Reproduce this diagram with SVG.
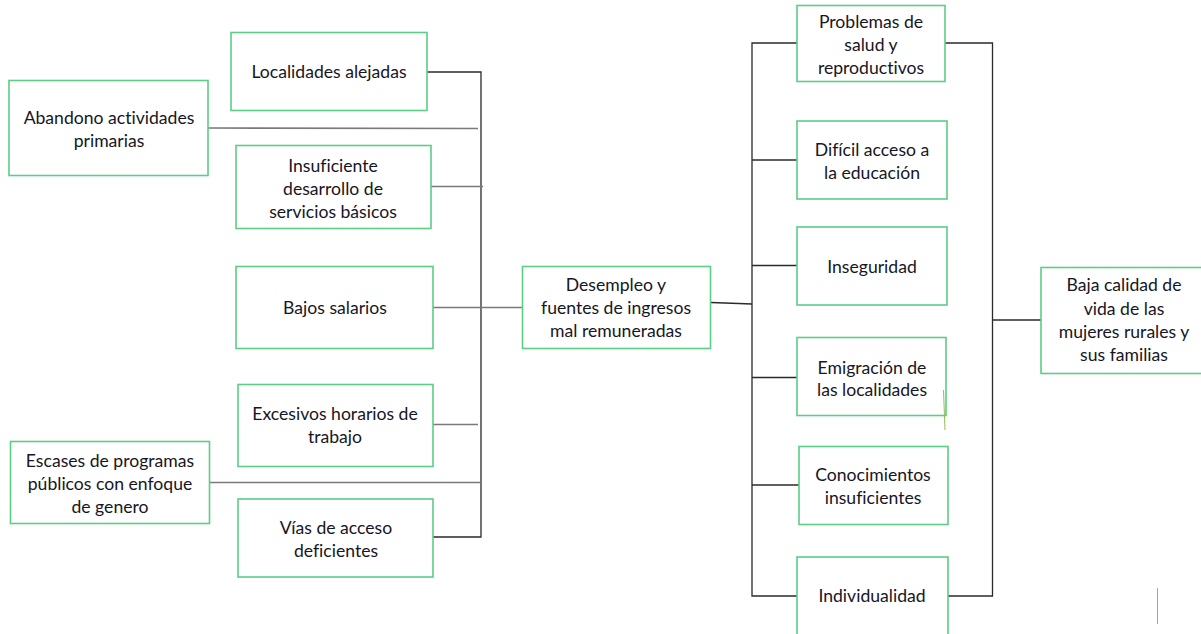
<svg xmlns="http://www.w3.org/2000/svg" width="1201" height="634" viewBox="0 0 1201 634">
<style>
.box{fill:#fff;stroke:#5cce86;stroke-width:1.6}
.t{font-family:Lato,"Open Sans","Liberation Sans",sans-serif;font-size:17.6px;fill:#161624;text-anchor:middle;font-variant-ligatures:none;font-feature-settings:"liga" 0,"dlig" 0}
.ln{stroke:#2a2a2a;stroke-width:1.3;fill:none}
.lg{stroke:#7a7a7a;stroke-width:1.6;fill:none}
.stray{stroke:#8fbf50;stroke-width:1;fill:none}
</style>
<rect width="1201" height="634" fill="#fff"/>
<g id="connectors">
<polyline class="ln" points="427,72 481,72 481,537 433,537"/>
<line class="lg" x1="208" y1="128" x2="478" y2="128.5"/>
<line class="lg" x1="431" y1="186.5" x2="483" y2="186.5"/>
<line class="lg" x1="433" y1="307.5" x2="522" y2="307.5"/>
<line class="lg" x1="433" y1="424.5" x2="478" y2="424.5"/>
<line class="lg" x1="209" y1="482.5" x2="481" y2="482.5"/>
<line class="ln" x1="711" y1="302.5" x2="752" y2="304"/>
<polyline class="ln" points="797,43 752,43 752,596 797,596"/>
<line class="ln" x1="752" y1="160" x2="797" y2="160"/>
<line class="ln" x1="752" y1="265.5" x2="797" y2="265.5"/>
<line class="ln" x1="752" y1="377.5" x2="797" y2="377.5"/>
<line class="ln" x1="752" y1="485" x2="799" y2="485"/>
<polyline class="ln" points="943,43 992.5,43 992.5,596 943,596"/>
<line class="ln" x1="992.5" y1="320" x2="1041" y2="320"/>
</g>
<g id="n-localidades"><rect class="box" x="231" y="32.5" width="196" height="78"/><text class="t" x="329" y="78">Localidades alejadas</text></g>
<g id="n-abandono"><rect class="box" x="9" y="80.5" width="199" height="95"/><text class="t" x="109" y="124">Abandono actividades</text><text class="t" x="109" y="146.5">primarias</text></g>
<g id="n-insuficiente"><rect class="box" x="236" y="145.5" width="195" height="83"/><text class="t" x="333" y="171.5">Insuficiente</text><text class="t" x="333" y="194.5">desarrollo de</text><text class="t" x="333" y="217.5">servicios básicos</text></g>
<g id="n-bajos"><rect class="box" x="236" y="266.5" width="197" height="82"/><text class="t" x="335" y="314">Bajos salarios</text></g>
<g id="n-excesivos"><rect class="box" x="238" y="384.5" width="195" height="82"/><text class="t" x="335" y="420">Excesivos horarios de</text><text class="t" x="335" y="442.5">trabajo</text></g>
<g id="n-escases"><rect class="box" x="10.5" y="441.5" width="199" height="82"/><text class="t" x="110" y="466.5">Escases de programas</text><text class="t" x="110" y="489.5">públicos con enfoque</text><text class="t" x="110" y="512.5">de genero</text></g>
<g id="n-vias"><rect class="box" x="238" y="499" width="195" height="78"/><text class="t" x="336" y="533.5">Vías de acceso</text><text class="t" x="336" y="556.5">deficientes</text></g>
<g id="n-desempleo"><rect class="box" x="522.5" y="266.5" width="188" height="82"/><text class="t" x="616" y="290.5">Desempleo y</text><text class="t" x="616" y="313.5">fuentes de ingresos</text><text class="t" x="616" y="336.5">mal remuneradas</text></g>
<g id="n-problemas"><rect class="box" x="797" y="5.5" width="148" height="76"/><text class="t" x="871" y="27.5">Problemas de</text><text class="t" x="871" y="50.5">salud y</text><text class="t" x="871" y="73.5">reproductivos</text></g>
<g id="n-dificil"><rect class="box" x="797" y="121" width="150" height="78"/><text class="t" x="872" y="156">Difícil acceso a</text><text class="t" x="872" y="179">la educación</text></g>
<g id="n-inseguridad"><rect class="box" x="797" y="227" width="150" height="78"/><text class="t" x="872" y="272.5">Inseguridad</text></g>
<g id="n-emigracion"><rect class="box" x="797" y="337.5" width="149" height="78"/><text class="t" x="872" y="373.5">Emigración de</text><text class="t" x="872" y="396">las localidades</text></g>
<g id="n-conocimientos"><rect class="box" x="799" y="446.5" width="149" height="78"/><text class="t" x="873" y="481">Conocimientos</text><text class="t" x="873" y="503.5">insuficientes</text></g>
<g id="n-individualidad"><rect class="box" x="797" y="557" width="151" height="80"/><text class="t" x="872" y="602">Individualidad</text></g>
<g id="n-baja"><rect class="box" x="1041" y="267.5" width="162" height="106"/><text class="t" x="1124" y="291">Baja calidad de</text><text class="t" x="1124" y="314.5">vida de las</text><text class="t" x="1124" y="337.5">mujeres rurales y</text><text class="t" x="1124" y="360.5">sus familias</text></g>
<line class="stray" x1="943.5" y1="390" x2="945" y2="430"/>
<line class="stray" x1="1157.5" y1="588" x2="1157.5" y2="624"/>
</svg>
